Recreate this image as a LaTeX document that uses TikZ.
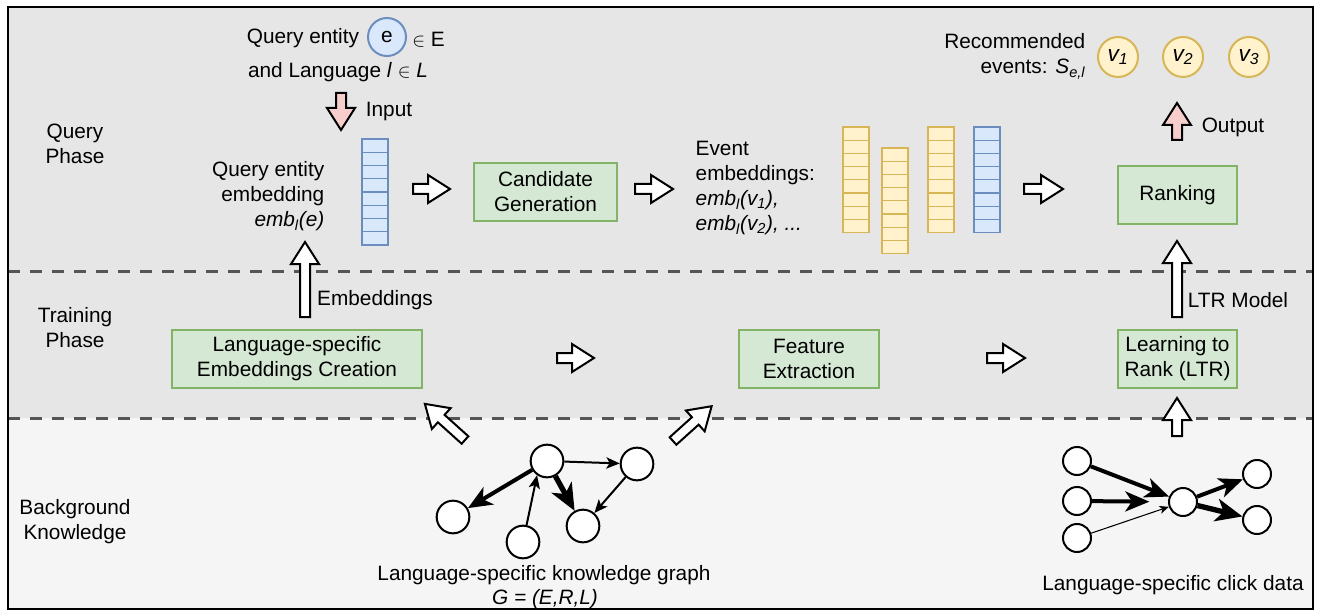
\documentclass[tikz,border=0pt]{standalone}
\usepackage{fontspec}
\setmainfont{Liberation Sans}
\usepackage{tikz}
\usetikzlibrary{arrows.meta}

\definecolor{greenfill}{HTML}{D5E8D4}
\definecolor{greenline}{HTML}{82B366}
\definecolor{bluefill}{HTML}{DAE8FC}
\definecolor{blueline}{HTML}{6C8EBF}
\definecolor{yelfill}{HTML}{FFF2CC}
\definecolor{yelline}{HTML}{D6B656}
\definecolor{pinkfill}{HTML}{F8CECC}
\definecolor{bgtop}{HTML}{E6E6E6}
\definecolor{bgbot}{HTML}{F5F5F5}
\definecolor{dashgray}{HTML}{555555}

\tikzset{
  procbox/.style={draw=greenline, fill=greenfill, line width=1.5pt, align=center, inner sep=2pt},
  ecirc/.style={circle, draw=blueline, fill=bluefill, line width=1.5pt, minimum size=28.5pt, inner sep=0pt},
  vcirc/.style={circle, draw=yelline, fill=yelfill, line width=1.5pt, minimum size=30pt, inner sep=0pt, font=\fontsize{17}{20}\selectfont},
  bluecell/.style={draw=blueline, fill=bluefill, line width=1pt},
  yelcell/.style={draw=yelline, fill=yelfill, line width=1pt},
  knode/.style={circle, draw, fill=white, line width=1.5pt, minimum size=24.5pt, inner sep=0pt},
  cnode/.style={circle, draw, fill=white, line width=1.5pt, minimum size=21pt, inner sep=0pt},
  phaseline/.style={dashgray, line width=2.25pt, dash pattern=on 9pt off 7.5pt},
  thinedge/.style={line width=0.8pt, -{Stealth[length=7pt, width=6pt, inset=2pt]}},
  kedge/.style={line width=1.5pt, -{Stealth[length=10pt, width=8.5pt, inset=2.5pt]}},
  boldedge/.style={line width=3pt, -{Stealth[length=18pt 0 0, width=15pt 0 0, inset=5pt]}},
  heavyedge/.style={line width=4pt, -{Stealth[length=20pt 0 0, width=17pt 0 0, inset=5.5pt]}},
  pics/blockarrow/.style n args={2}{code={
    \draw[line width=1.5pt, line join=miter, fill=#2] (0,-5) -- (#1-22,-5) -- (#1-22,-14) -- (#1,0) -- (#1-22,14) -- (#1-22,5) -- (0,5) -- cycle;
  }}
}

\begin{document}
\begin{tikzpicture}[x=0.75pt,y=0.75pt,yscale=-1,xscale=1, font=\fontsize{15.6}{18.7}\selectfont]
\useasboundingbox (0,0) rectangle (1317,613);

% Background bands
\fill[bgtop] (8,7) rectangle (1313,418);
\fill[bgbot] (8,418) rectangle (1313,609);
\draw[phaseline] (8,271) -- (1313,271);
\draw[phaseline] (8,418) -- (1313,418);
\draw[line width=1.5pt] (8,7) rectangle (1313,609);

% Phase labels
\node[align=center] (qphase) at (75,144) {Query\\Phase};
\node[align=center] (tphase) at (75,328) {Training\\Phase};
\node[align=center] (bphase) at (75,522) {Background\\Knowledge};

% Query input
\node (qent) at (303,38) {Query entity};
\node[ecirc] (ent) at (387,37) {e};
\node[anchor=west, inner sep=0pt] (inE) at (412,40) {$\in$ E};
\node (qlang) at (338,72) {and Language \textit{l} $\in$ \textit{L}};
\pic[rotate=-90] at (341,93) {blockarrow={37}{pinkfill}};
\node (inlbl) at (389,112) {Input};

% Query entity embedding
\node[anchor=east, align=right] (qemb) at (329,196) {Query entity\\embedding\\\textit{emb\textsubscript{l}(e)}};
\foreach \i in {0,...,7}
  \draw[bluecell] (362,139+13.25*\i) rectangle ++(26,13.25);
\pic at (413,189) {blockarrow={37}{white}};

% Candidate generation
\node[procbox, minimum width=107pt, minimum height=43.5pt] (cand) at (545.5,192) {Candidate\\Generation};
\pic at (635,189) {blockarrow={38}{white}};

% Event embeddings
\node[anchor=west, align=left] (evtxt) at (691,188) {Event\\embeddings:\\\textit{emb\textsubscript{l}(v\textsubscript{1}),}\\\textit{emb\textsubscript{l}(v\textsubscript{2}), ...}};
\foreach \vx/\vy/\vc in {843/127/yelcell, 882/148/yelcell, 928/127/yelcell, 974/127/bluecell}
  \foreach \i in {0,...,7}
    \draw[\vc] (\vx,\vy+13.2*\i) rectangle ++(26,13.2);
\pic at (1024,189) {blockarrow={39}{white}};

% Ranking and output
\node[procbox, minimum width=89pt, minimum height=43.5pt] (rank) at (1177.5,195) {Ranking};
\pic[rotate=90] at (1177,140) {blockarrow={37}{pinkfill}};
\node (outlbl) at (1233,127) {Output};
\node[anchor=east, align=right] (rectxt) at (1090,56) {Recommended\\events: \textit{S\textsubscript{e,l}}};
\node[vcirc] (v1) at (1118,57) {\textit{v\textsubscript{1}}};
\node[vcirc] (v2) at (1183,57) {\textit{v\textsubscript{2}}};
\node[vcirc] (v3) at (1249,57) {\textit{v\textsubscript{3}}};

% Training phase
\node[procbox, minimum width=187.5pt, minimum height=43.5pt] (lang) at (297,359) {Language-specific\\Embeddings Creation};
\node[procbox, minimum width=105pt, minimum height=44pt] (feat) at (809,359) {Feature\\Extraction};
\node[procbox, minimum width=89pt, minimum height=43.5pt] (ltr) at (1177.5,359) {Learning to\\Rank (LTR)};
\pic[rotate=90] at (305,317) {blockarrow={75}{white}};
\node (emblbl) at (375,300) {Embeddings};
\pic at (557,358) {blockarrow={37}{white}};
\pic at (987,358) {blockarrow={38}{white}};
\pic[rotate=90] at (1177,317) {blockarrow={76}{white}};
\node (ltrlbl) at (1238,300) {LTR Model};

% Background knowledge to training
\pic[rotate=138] at (465,440) {blockarrow={54}{white}};
\pic[rotate=42] at (673,441) {blockarrow={52}{white}};
\pic[rotate=90] at (1177,436) {blockarrow={38}{white}};

% Knowledge graph
\node[knode] (kgtop) at (547,461) {};
\node[knode] (kgright) at (637,464) {};
\node[knode] (kgleft) at (453,517) {};
\node[knode] (kgbot) at (523,542) {};
\node[knode] (kgmid) at (583,526) {};
\draw[kedge] (kgtop) -- (kgright);
\draw[kedge] (kgright) -- (kgmid);
\draw[kedge] (kgbot) -- (kgtop.235);
\draw[boldedge] (kgtop) -- (kgleft);
\draw[heavyedge] (kgtop) -- (kgmid);
\node (kglbl) at (544,575) {Language-specific knowledge graph};
\node (kgset) at (545,599) {\textit{G = (E,R,L)}};

% Click data
\node[cnode] (cl1) at (1077,461) {};
\node[cnode] (cl2) at (1077,501) {};
\node[cnode] (cl3) at (1077,538) {};
\node[cnode] (clc) at (1183,502) {};
\node[cnode] (clr1) at (1257,474) {};
\node[cnode] (clr2) at (1257,520) {};
\draw[boldedge] (cl1) -- (clc);
\draw[boldedge, shorten >=14pt] (cl2) -- (clc);
\draw[thinedge] (cl3) -- (clc);
\draw[boldedge] (clc) -- (clr1);
\draw[heavyedge] (clc) -- (clr2);
\node (cllbl) at (1173,585) {Language-specific click data};

\end{tikzpicture}
\end{document}
